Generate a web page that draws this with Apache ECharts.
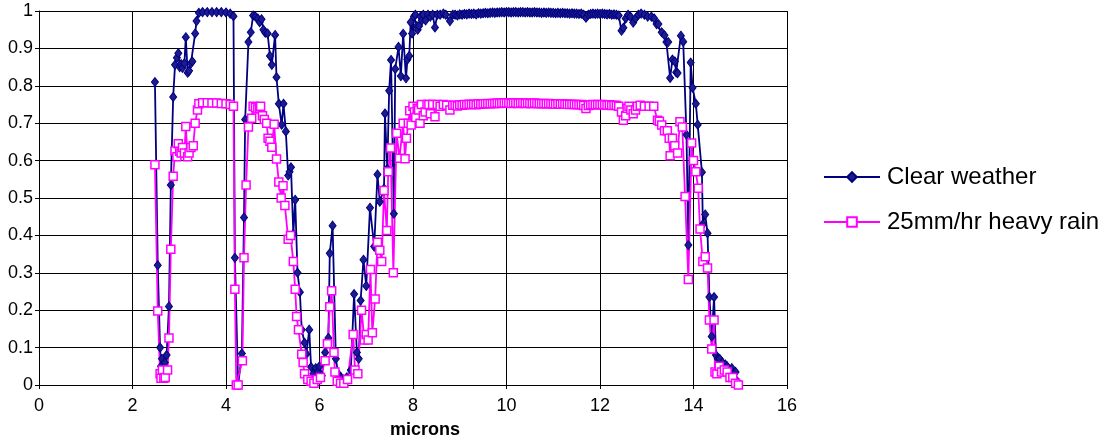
<!DOCTYPE html>
<html lang="en">
<head>
    <meta charset="UTF-8">
    <title>Transmission</title>
    <script src="https://cdn.jsdelivr.net/npm/echarts@6/dist/echarts.min.js"></script>
    <style>
        body { margin: 0; background: #fff; }
        #main { width: 1114px; height: 444px; }
    </style>
</head>
<body>
<div id="main"></div>
<script>
    // wavelength (microns) and transmission
    var clearMicrons = [
        2.48, 2.54, 2.59, 2.61, 2.63, 2.66, 2.69, 2.73, 2.78, 2.82, 2.87, 2.91, 2.95, 2.98, 3.01, 3.04, 3.07, 3.11,
        3.14, 3.18, 3.21, 3.25, 3.28, 3.34, 3.37, 3.42, 3.5, 3.6, 3.7, 3.8, 3.9, 4.0, 4.09, 4.16, 4.19, 4.26,
        4.34, 4.385, 4.41, 4.48, 4.53, 4.58, 4.63, 4.68, 4.72, 4.76, 4.80, 4.84, 4.89, 4.94, 4.98, 5.05, 5.08, 5.13,
        5.19, 5.23, 5.28, 5.33, 5.36, 5.39, 5.44, 5.48, 5.53, 5.58, 5.62, 5.68, 5.72, 5.78, 5.82, 5.87, 5.92, 5.97,
        6.00, 6.05, 6.12, 6.19, 6.22, 6.28, 6.35, 6.40, 6.46, 6.52, 6.58, 6.67, 6.74, 6.80, 6.84, 6.88, 6.94, 7.00,
        7.08, 7.17, 7.24, 7.29, 7.38, 7.40, 7.45, 7.49, 7.53, 7.59, 7.62, 7.69, 7.74, 7.79, 7.85, 7.88, 7.92, 7.95,
        7.98, 8.02, 8.05, 8.08, 8.10, 8.13, 8.16, 8.19, 8.22, 8.27, 8.32, 8.37, 8.42, 8.47, 8.52, 8.58, 8.65, 8.70,
        8.79, 8.85,
        8.90, 8.95, 9.00, 9.05, 9.10, 9.15, 9.20, 9.25, 9.30, 9.35, 9.40, 9.45, 9.50, 9.55, 9.60, 9.65, 9.70, 9.75,
        9.80, 9.85, 9.90, 9.95, 10.00, 10.05, 10.10, 10.15, 10.20, 10.25, 10.30, 10.35, 10.40, 10.45, 10.50, 10.55,
        10.60, 10.65, 10.70, 10.75, 10.80, 10.85, 10.90, 10.95, 11.00, 11.05, 11.10, 11.15, 11.20, 11.25, 11.30,
        11.35, 11.40, 11.45, 11.50, 11.55, 11.60, 11.65, 11.70, 11.75, 11.80, 11.85, 11.90, 11.95, 12.00, 12.05,
        12.10, 12.15, 12.20, 12.25, 12.30, 12.35, 12.40,
        12.46, 12.50, 12.55, 12.60, 12.65, 12.71, 12.76, 12.82, 12.88, 12.95, 13.02, 13.10, 13.16, 13.21, 13.25,
        13.32, 13.38, 13.42, 13.46, 13.50, 13.55, 13.60, 13.63, 13.66, 13.73, 13.78, 13.85, 13.89, 13.94, 13.98,
        14.05, 14.09, 14.18, 14.20, 14.25, 14.30, 14.34, 14.39, 14.44, 14.48, 14.52, 14.56, 14.62, 14.68, 14.72,
        14.77, 14.82, 14.86, 14.90, 14.93, 14.96
    ];
    var clearValues = [
        0.81, 0.32, 0.10, 0.05, 0.07, 0.04, 0.06, 0.08, 0.21, 0.535, 0.77, 0.856, 0.875, 0.887, 0.85, 0.858, 0.848, 0.86,
        0.93, 0.835, 0.84, 0.86, 0.865, 0.94, 0.973, 0.995, 0.997, 0.997, 0.997, 0.997, 0.997, 0.996, 0.993, 0.986, 0.34, 0.0,
        0.084, 0.448, 0.71, 0.917, 0.943, 0.988, 0.985, 0.98, 0.97, 0.978, 0.95, 0.942, 0.94, 0.88, 0.856, 0.936, 0.823, 0.752,
        0.696, 0.752, 0.678, 0.56, 0.57, 0.582, 0.404, 0.495, 0.30, 0.248, 0.148, 0.113, 0.083, 0.148, 0.048, 0.03, 0.045, 0.035,
        0.05, 0.025, 0.087, 0.126, 0.352, 0.426, 0.07, 0.03, 0.02, 0.015, 0.02, 0.04, 0.243, 0.087, 0.07, 0.226, 0.335, 0.265,
        0.474, 0.37, 0.563, 0.49, 0.525, 0.726, 0.578, 0.787, 0.869, 0.458, 0.845, 0.904, 0.826, 0.939, 0.82, 0.87, 0.88, 0.97,
        0.94, 0.985, 0.99, 0.96, 0.95, 0.96, 0.985, 0.975, 0.99, 0.975, 0.99, 0.985, 0.99, 0.956, 0.99, 0.99, 0.993, 0.99,
        0.973, 0.99,
        0.990, 0.988, 0.991, 0.990, 0.992, 0.991, 0.993, 0.992, 0.993, 0.991, 0.994, 0.993, 0.994, 0.995, 0.994, 0.995, 0.996, 0.995,
        0.996, 0.996, 0.997, 0.996, 0.997, 0.997, 0.996, 0.997, 0.997, 0.996, 0.997, 0.997, 0.996, 0.997, 0.996, 0.996,
        0.997, 0.996, 0.996, 0.995, 0.996, 0.995, 0.996, 0.995, 0.995, 0.994, 0.995, 0.994, 0.995, 0.994, 0.994,
        0.993, 0.994, 0.993, 0.993, 0.992, 0.993, 0.990, 0.982, 0.990, 0.992, 0.993, 0.992, 0.993, 0.992, 0.993,
        0.992, 0.991, 0.992, 0.990, 0.991, 0.990, 0.988,
        0.947, 0.955, 0.98, 0.99, 0.985, 0.969, 0.98, 0.99, 0.993, 0.99, 0.985, 0.985, 0.98, 0.965, 0.965,
        0.943, 0.935, 0.917, 0.917, 0.821, 0.87, 0.865, 0.836, 0.834, 0.934, 0.918, 0.669, 0.374, 0.862, 0.795,
        0.752, 0.696, 0.569, 0.43, 0.456, 0.406, 0.235, 0.13, 0.235, 0.08, 0.07, 0.07, 0.06, 0.055, 0.05,
        0.04, 0.045, 0.03, 0.035, 0.01, 0.005
    ];

    var rainMicrons = [
        2.48, 2.54, 2.59, 2.61, 2.64, 2.67, 2.70, 2.75, 2.78, 2.82, 2.87, 2.91, 2.95, 2.98, 3.01, 3.04, 3.07, 3.11,
        3.14, 3.18, 3.21, 3.25, 3.30, 3.34, 3.39, 3.42, 3.5, 3.6, 3.7, 3.8, 3.9, 4.0, 4.09, 4.16, 4.19, 4.22, 4.26,
        4.35, 4.385, 4.43, 4.48, 4.55, 4.58, 4.63, 4.68, 4.72, 4.74, 4.78, 4.82, 4.87, 4.90, 4.94, 4.98, 5.03, 5.08,
        5.13, 5.18, 5.22, 5.26, 5.33, 5.38, 5.44, 5.48, 5.51, 5.55, 5.62, 5.65, 5.68, 5.75, 5.82, 5.88, 5.95, 6.02,
        6.12, 6.17, 6.22, 6.26, 6.31, 6.33, 6.38, 6.45, 6.52, 6.60, 6.72, 6.76, 6.82, 6.90, 6.96, 7.00, 7.04, 7.09,
        7.13, 7.19, 7.24, 7.29, 7.33, 7.38, 7.44, 7.47, 7.52, 7.58, 7.65, 7.71, 7.79, 7.83, 7.86, 7.90, 7.93, 7.96,
        8.00, 8.03, 8.06, 8.09, 8.12, 8.15, 8.18, 8.22, 8.26, 8.30, 8.34, 8.37, 8.42, 8.47, 8.52, 8.58, 8.65, 8.72,
        8.79, 8.85,
        8.90, 8.95, 9.00, 9.05, 9.10, 9.15, 9.20, 9.25, 9.30, 9.35, 9.40, 9.45, 9.50, 9.55, 9.60, 9.65, 9.70, 9.75,
        9.80, 9.85, 9.90, 9.95, 10.00, 10.05, 10.10, 10.15, 10.20, 10.25, 10.30, 10.35, 10.40, 10.45, 10.50, 10.55,
        10.60, 10.65, 10.70, 10.75, 10.80, 10.85, 10.90, 10.95, 11.00, 11.05, 11.10, 11.15, 11.20, 11.25, 11.30,
        11.35, 11.40, 11.45, 11.50, 11.55, 11.60, 11.65, 11.70, 11.75, 11.80, 11.85, 11.90, 11.95, 12.00, 12.05,
        12.10, 12.15, 12.20, 12.25, 12.30, 12.35, 12.40,
        12.46, 12.50, 12.55, 12.58, 12.62, 12.66, 12.71, 12.76, 12.80, 12.86, 12.95, 13.05, 13.15, 13.23, 13.27,
        13.32, 13.38, 13.44, 13.48, 13.50, 13.55, 13.60, 13.66, 13.71, 13.76, 13.82, 13.89, 13.96, 14.00, 14.05,
        14.10, 14.14, 14.20, 14.25, 14.30, 14.34, 14.39, 14.44, 14.46, 14.50, 14.55, 14.60, 14.66, 14.72, 14.78,
        14.84, 14.90, 14.96
    ];
    var rainValues = [
        0.589, 0.198, 0.03, 0.018, 0.04, 0.018, 0.02, 0.04, 0.126, 0.363, 0.558, 0.626, 0.61, 0.645, 0.625, 0.62, 0.635, 0.62,
        0.691, 0.61, 0.62, 0.635, 0.64, 0.70, 0.735, 0.752, 0.755, 0.755, 0.754, 0.754, 0.753, 0.752, 0.75, 0.745, 0.256, 0.0, 0.0,
        0.065, 0.34, 0.535, 0.69, 0.713, 0.745, 0.742, 0.738, 0.74, 0.745, 0.72, 0.71, 0.70, 0.66, 0.652, 0.636, 0.697, 0.604,
        0.543, 0.50, 0.533, 0.48, 0.39, 0.40, 0.33, 0.256, 0.183, 0.148, 0.082, 0.06, 0.03, 0.015, 0.01, 0.005, 0.015, 0.02,
        0.065, 0.11, 0.209, 0.252, 0.087, 0.035, 0.01, 0.005, 0.005, 0.015, 0.135, 0.04, 0.03, 0.20, 0.12, 0.135, 0.12, 0.309,
        0.14, 0.23, 0.382, 0.36, 0.33, 0.52, 0.413, 0.57, 0.634, 0.30, 0.673, 0.606, 0.70, 0.605, 0.66, 0.70, 0.733, 0.695,
        0.745, 0.73, 0.715, 0.74, 0.735, 0.70, 0.75, 0.72, 0.73, 0.75, 0.75, 0.725, 0.75, 0.717, 0.75, 0.745, 0.75, 0.748,
        0.735, 0.748,
        0.748, 0.746, 0.749, 0.748, 0.750, 0.749, 0.751, 0.750, 0.751, 0.749, 0.752, 0.751, 0.752, 0.752, 0.753, 0.752, 0.753, 0.753,
        0.754, 0.753, 0.754, 0.754, 0.754, 0.754, 0.753, 0.754, 0.754, 0.753, 0.754, 0.754, 0.753, 0.754, 0.753, 0.753,
        0.754, 0.753, 0.753, 0.752, 0.753, 0.752, 0.753, 0.752, 0.752, 0.751, 0.752, 0.751, 0.752, 0.751, 0.751,
        0.750, 0.751, 0.750, 0.750, 0.749, 0.750, 0.747, 0.739, 0.747, 0.749, 0.750, 0.749, 0.750, 0.749, 0.750,
        0.749, 0.748, 0.749, 0.747, 0.748, 0.747, 0.745,
        0.73, 0.708, 0.72, 0.74, 0.745, 0.735, 0.725, 0.735, 0.745, 0.748, 0.745, 0.745, 0.745, 0.708, 0.705,
        0.695, 0.68, 0.68, 0.66, 0.613, 0.66, 0.64, 0.62, 0.704, 0.69, 0.504, 0.282, 0.647, 0.60, 0.57,
        0.526, 0.417, 0.33, 0.343, 0.313, 0.174, 0.096, 0.174, 0.035, 0.03, 0.05, 0.035, 0.04, 0.035, 0.02,
        0.02, 0.005, 0.0
    ];

    var seriesNames = ['Clear weather', '25mm/hr heavy rain'];

    function pairs(xs, ys) {
        var out = [];
        for (var i = 0; i < xs.length; i++) {
            out.push([xs[i], ys[i]]);
        }
        return out;
    }

    var myChart = echarts.init(document.getElementById('main'));
    var font = 'Liberation Sans, Arial, sans-serif';

    var option = {
        animation: false,
        backgroundColor: '#fff',
        grid: { left: 39, right: 327, top: 11, bottom: 50 },
        legend: {
            orient: 'vertical',
            left: 818,
            top: 160,
            itemWidth: 56,
            itemHeight: 12,
            itemGap: 21,
            textStyle: { fontFamily: font, fontSize: 24, color: '#000', lineHeight: 24, padding: [0, 0, 0, 2] },
            data: seriesNames
        },
        xAxis: {
            type: 'value',
            min: 0,
            max: 16,
            interval: 2,
            name: 'microns',
            nameLocation: 'middle',
            nameGap: 36,
            nameTextStyle: { fontFamily: font, fontSize: 18, fontWeight: 'bold', color: '#000', padding: [0, 0, 0, 24] },
            axisLine: { lineStyle: { color: '#000', width: 1 } },
            axisTick: { show: true, length: 4, lineStyle: { color: '#000' } },
            axisLabel: { fontFamily: font, fontSize: 18, color: '#000', margin: 12 },
            splitLine: { show: true, lineStyle: { color: '#000', width: 1 } }
        },
        yAxis: {
            type: 'value',
            min: 0,
            max: 1,
            interval: 0.1,
            axisLine: { show: true, lineStyle: { color: '#000', width: 1 } },
            axisTick: { show: true, length: 4, lineStyle: { color: '#000' } },
            axisLabel: { fontFamily: font, fontSize: 18, color: '#000', margin: 6, padding: [8, 0, 0, 0] },
            splitLine: { show: true, lineStyle: { color: '#000', width: 1 } }
        },
        series: [
            {
                name: seriesNames[0],
                type: 'line',
                data: pairs(clearMicrons, clearValues),
                showSymbol: true,
                showAllSymbol: true,
                symbol: 'diamond',
                symbolSize: [7, 9],
                lineStyle: { color: '#000080', width: 1.8 },
                itemStyle: { color: '#1c1c90', borderColor: '#000080', borderWidth: 1 }
            },
            {
                name: seriesNames[1],
                type: 'line',
                data: pairs(rainMicrons, rainValues),
                showSymbol: true,
                showAllSymbol: true,
                symbol: 'rect',
                symbolSize: 8,
                lineStyle: { color: '#ff00ff', width: 1.8 },
                itemStyle: { color: '#ffffff', borderColor: '#ff00ff', borderWidth: 1.5 }
            }
        ]
    };
    myChart.setOption(option);
</script>
</body>
</html>
